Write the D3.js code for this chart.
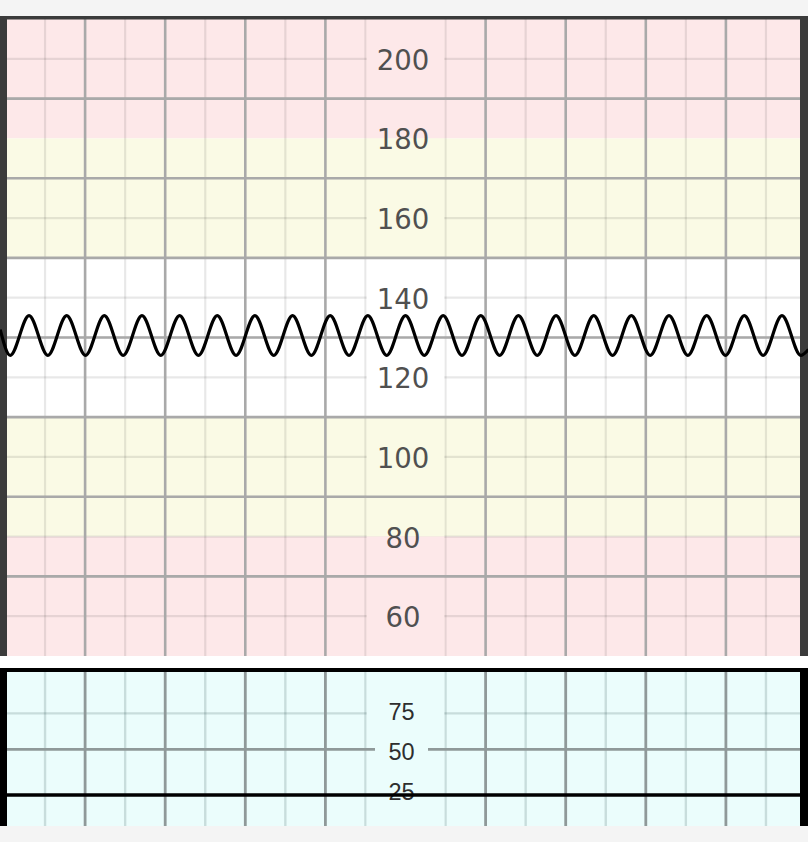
<!DOCTYPE html>
<html>
<head>
<meta charset="utf-8">
<script src="https://cdn.jsdelivr.net/npm/d3@7"></script>
<style>
  html, body { margin: 0; padding: 0; background: #f4f4f4; }
  svg { display: block; }
</style>
</head>
<body>
<svg id="chart" width="808" height="842"></svg>
<script>
// ---------------- DATA ----------------
// Fetal heart rate trace (time in minutes, bpm) – extremes
const fhrTime = [-0.06, 0.065, 0.30, 0.535, 0.77, 1.005, 1.24, 1.475, 1.71, 1.945, 2.18,
  2.415, 2.65, 2.885, 3.12, 3.355, 3.59, 3.825, 4.06, 4.295, 4.53, 4.765, 5.00,
  5.235, 5.47, 5.705, 5.94, 6.175, 6.41, 6.645, 6.88, 7.115, 7.35, 7.585, 7.82,
  8.055, 8.29, 8.525, 8.76, 8.995, 9.23, 9.465, 9.70, 9.935, 10.03];
const fhrBpm = [132, 125.5, 135.5, 125.5, 135.5, 125.5, 135.5, 125.5, 135.5, 125.5, 135.5,
  125.5, 135.5, 125.5, 135.5, 125.5, 135.5, 125.5, 135.5, 125.5, 135.5, 125.5, 135.5,
  125.5, 135.5, 125.5, 135.5, 125.5, 135.5, 125.5, 135.5, 125.5, 135.5, 125.5, 135.5,
  125.5, 135.5, 125.5, 135.5, 125.5, 135.5, 125.5, 135.5, 125.5, 127];

// Uterine activity trace (flat)
const tocoTime = [-0.1, 2.5, 5, 7.5, 10.1];
const tocoValue = [20, 20, 20, 20, 20];

// Axis labels
const fhrTickLabels = [200, 180, 160, 140, 120, 100, 80, 60];
const tocoTickLabels = [75, 50, 25];

// FHR zones (lower, upper bpm)
const zoneLower = [180, 150, 110, 80, 50];
const zoneUpper = [210, 180, 150, 110, 80];
const zoneKind  = ["alert", "warn", "normal", "warn", "alert"];

// Grid values
const fhrMinorGrid = [60, 70, 80, 90, 100, 120, 130, 140, 160, 170, 190, 200];
const fhrMajorGrid = [70, 90, 110, 130, 150, 170, 190];
const tocoMinorGrid = [71];
const tocoMajorGrid = [48.5];
const timeMinor = [0.5, 1.5, 2.5, 3.5, 4.5, 5.5, 6.5, 7.5, 8.5, 9.5];
const timeMajor = [1, 2, 3, 4, 6, 7, 8, 9];

// ---------------- DRAW ----------------
const svg = d3.select("#chart");
const zoneColor = { alert: "#fde8e9", warn: "#fafae5", normal: "#ffffff" };

const x = d3.scaleLinear().domain([0, 10]).range([5, 806]);
const yF = d3.scaleLinear().domain([50, 210]).range([656, 19]);
const yT = d3.scaleLinear().domain([0, 100]).range([827, 667]);

svg.append("rect").attr("x", 0).attr("y", 16).attr("width", 808).attr("height", 810).attr("fill", "#ffffff");

// ---- FHR panel ----
const gTop = svg.append("g");
const zones = zoneLower.map((l, i) => ({ lo: l, hi: zoneUpper[i], kind: zoneKind[i] }));
gTop.selectAll("rect.zone").data(zones).join("rect")
  .attr("x", 0).attr("width", 808)
  .attr("y", d => yF(d.hi)).attr("height", d => yF(d.lo) - yF(d.hi))
  .attr("fill", d => zoneColor[d.kind]);

const minorStroke = "rgba(0,0,0,0.09)";
const majorStroke = "#a9a9a9";

gTop.selectAll("line.hmin").data(fhrMinorGrid).join("line")
  .attr("x1", 0).attr("x2", 808).attr("y1", d => yF(d)).attr("y2", d => yF(d))
  .attr("stroke", minorStroke).attr("stroke-width", 2.2);
gTop.selectAll("line.vmin").data(timeMinor).join("line")
  .attr("x1", d => x(d)).attr("x2", d => x(d)).attr("y1", yF(210)).attr("y2", yF(50))
  .attr("stroke", minorStroke).attr("stroke-width", 2.2);
gTop.selectAll("line.vmaj").data(timeMajor).join("line")
  .attr("x1", d => x(d)).attr("x2", d => x(d)).attr("y1", yF(210)).attr("y2", yF(50))
  .attr("stroke", majorStroke).attr("stroke-width", 2.6);

const colX0 = x(4.5) + 1.2, colX1 = x(5.5) - 1.2;
gTop.selectAll("rect.col").data(zones).join("rect")
  .attr("x", colX0).attr("width", colX1 - colX0)
  .attr("y", d => yF(d.hi)).attr("height", d => yF(d.lo) - yF(d.hi))
  .attr("fill", d => zoneColor[d.kind]);

gTop.selectAll("line.hmaj").data(fhrMajorGrid).join("line")
  .attr("x1", 0).attr("x2", 808).attr("y1", d => yF(d)).attr("y2", d => yF(d))
  .attr("stroke", majorStroke).attr("stroke-width", 2.6);

gTop.selectAll("text.lab").data(fhrTickLabels).join("text")
  .attr("x", 403).attr("y", d => yF(d) + 11)
  .attr("text-anchor", "middle")
  .attr("font-family", "'DejaVu Sans', Verdana, sans-serif")
  .attr("font-size", 27.5).attr("fill", "#505050")
  .text(d => d);

gTop.append("rect").attr("x", 0).attr("y", 16).attr("width", 808).attr("height", 3.5).attr("fill", "#3b3b3b");
gTop.append("rect").attr("x", 0).attr("y", 16).attr("width", 7).attr("height", 640).attr("fill", "#3b3b3b");
gTop.append("rect").attr("x", 800).attr("y", 16).attr("width", 8).attr("height", 640).attr("fill", "#3b3b3b");

const fhrPts = fhrTime.map((t, i) => [t, fhrBpm[i]]);
gTop.append("path")
  .attr("d", d3.line().x(d => x(d[0])).y(d => yF(d[1])).curve(d3.curveMonotoneX)(fhrPts))
  .attr("fill", "none").attr("stroke", "#000").attr("stroke-width", 3.2);

// ---- TOCO panel ----
const gBot = svg.append("g");
const tocoTop = 668, tocoBottom = 826;
gBot.append("rect").attr("x", 0).attr("y", tocoTop).attr("width", 808).attr("height", tocoBottom - tocoTop).attr("fill", "#ebfdfc");

const tMinor = "rgba(0,40,40,0.15)";
const tMajor = "#8f9999";
gBot.selectAll("line.hmin").data(tocoMinorGrid).join("line")
  .attr("x1", 0).attr("x2", 808).attr("y1", d => yT(d)).attr("y2", d => yT(d))
  .attr("stroke", tMinor).attr("stroke-width", 2.4);
gBot.selectAll("line.vmin").data(timeMinor).join("line")
  .attr("x1", d => x(d)).attr("x2", d => x(d)).attr("y1", tocoTop).attr("y2", tocoBottom)
  .attr("stroke", tMinor).attr("stroke-width", 2.4);
gBot.selectAll("line.vmaj").data(timeMajor).join("line")
  .attr("x1", d => x(d)).attr("x2", d => x(d)).attr("y1", tocoTop).attr("y2", tocoBottom)
  .attr("stroke", tMajor).attr("stroke-width", 2.8);
gBot.append("rect").attr("x", colX0).attr("width", colX1 - colX0)
  .attr("y", tocoTop).attr("height", tocoBottom - tocoTop).attr("fill", "#ebfdfc");
gBot.selectAll("line.hmaj").data(tocoMajorGrid).join("line")
  .attr("x1", 0).attr("x2", 808).attr("y1", d => yT(d)).attr("y2", d => yT(d))
  .attr("stroke", tMajor).attr("stroke-width", 2.8);

const tl = gBot.selectAll("g.tl").data(tocoTickLabels).join("g");
tl.append("rect")
  .attr("x", 375).attr("width", 53)
  .attr("y", d => yT(d) - 7).attr("height", 20)
  .attr("fill", "#ebfdfc");
tl.append("text")
  .attr("x", 401.5).attr("y", d => yT(d) + 12.5)
  .attr("text-anchor", "middle")
  .attr("font-family", "'Liberation Sans', Arial, sans-serif")
  .attr("font-size", 23.5).attr("fill", "#2e2e2e")
  .text(d => d);

gBot.append("rect").attr("x", 0).attr("y", tocoTop).attr("width", 808).attr("height", 4).attr("fill", "#000");
gBot.append("rect").attr("x", 0).attr("y", tocoTop).attr("width", 7).attr("height", tocoBottom - tocoTop).attr("fill", "#000");
gBot.append("rect").attr("x", 800).attr("y", tocoTop).attr("width", 8).attr("height", tocoBottom - tocoTop).attr("fill", "#000");

const tocoPts = tocoTime.map((t, i) => [t, tocoValue[i]]);
gBot.append("path")
  .attr("d", d3.line().x(d => x(d[0])).y(d => yT(d[1])).curve(d3.curveMonotoneX)(tocoPts))
  .attr("fill", "none").attr("stroke", "#000").attr("stroke-width", 3.6);
</script>
</body>
</html>
